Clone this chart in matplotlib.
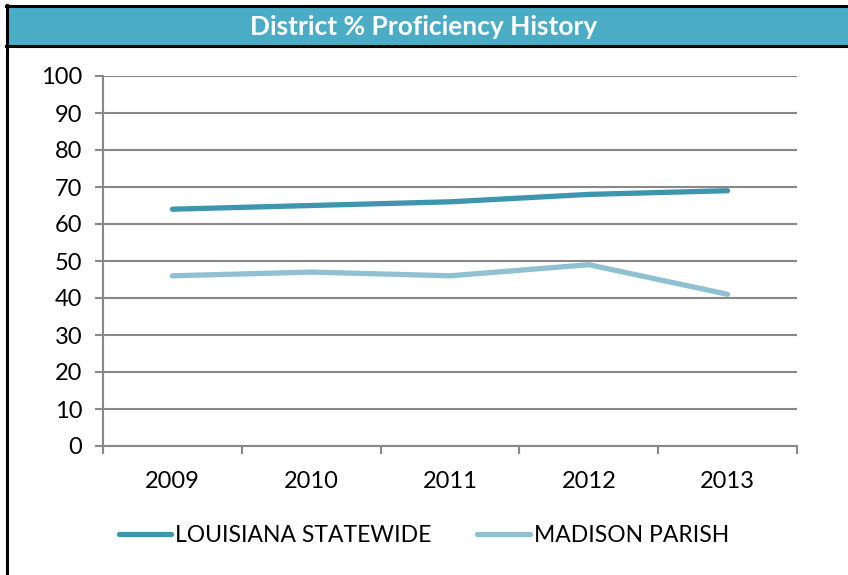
import matplotlib
matplotlib.use("Agg")
import matplotlib.pyplot as plt
from matplotlib.patches import Rectangle
from matplotlib.lines import Line2D

# data
years = ["2009", "2010", "2011", "2012", "2013"]
statewide = [64, 65, 66, 68, 69]
madison = [46, 47, 46, 49, 41]
series_names = ["LOUISIANA STATEWIDE", "MADISON PARISH"]
y_ticks = [0, 10, 20, 30, 40, 50, 60, 70, 80, 90, 100]
title = "District % Proficiency History"

plt.rcParams["font.family"] = ["Lato", "DejaVu Sans"]

W, H = 848, 575
fig = plt.figure(figsize=(W / 100, H / 100), dpi=100)


def fx(px):
    return px / W


def fy(py):
    return 1 - py / H


# title bar with black frame lines
fig.patches.append(Rectangle((fx(7), fy(46)), 1 - fx(7), fy(6) - fy(46),
                             transform=fig.transFigure, facecolor="#4BACC6",
                             edgecolor="none", zorder=0))
fig.add_artist(Line2D([fx(7), fx(7)], [0, fy(5)], transform=fig.transFigure,
                      color="black", lw=2.2))
fig.add_artist(Line2D([fx(6), 1], [fy(6), fy(6)], transform=fig.transFigure,
                      color="black", lw=2.2))
fig.add_artist(Line2D([fx(6), 1], [fy(46), fy(46)], transform=fig.transFigure,
                      color="black", lw=2.2))
fig.text(0.5, fy(27), title, color="white", fontsize=19, fontweight="bold",
         ha="center", va="center")

# plot area
ax = fig.add_axes([fx(103), fy(446), fx(797) - fx(103), fy(76) - fy(446)])
x = list(range(len(years)))
ax.plot(x, statewide, color="#3E95AE", lw=3.8, solid_capstyle="round",
        label=series_names[0], zorder=3)
ax.plot(x, madison, color="#8FC1D3", lw=3.8, solid_capstyle="round",
        label=series_names[1], zorder=3)

ax.set_xlim(-0.5, len(years) - 0.5)
ax.set_ylim(0, 100)
ax.set_yticks(y_ticks)
ax.set_yticklabels([str(v) for v in y_ticks], fontsize=17)

ax.set_xticks([i - 0.5 for i in range(len(years) + 1)])
ax.set_xticklabels([])
ax.set_xticks(x, minor=True)
ax.set_xticklabels(years, minor=True, fontsize=17)
ax.tick_params(axis="x", which="minor", length=0, pad=18)
ax.tick_params(axis="x", which="major", length=6, width=1.5, color="#888888")
ax.tick_params(axis="y", length=6, width=1.5, color="#888888", pad=9)

ax.grid(axis="y", color="#888888", lw=1.5)
ax.set_axisbelow(True)
for s in ["top", "right"]:
    ax.spines[s].set_visible(False)
for s in ["left", "bottom"]:
    ax.spines[s].set_color("#888888")
    ax.spines[s].set_linewidth(1.5)

fig.legend(loc="center", bbox_to_anchor=(0.5, fy(536)), ncol=2, frameon=False,
           fontsize=16.5, handlelength=2.3, handletextpad=0.17,
           columnspacing=2.0)

fig.savefig("out.png", dpi=100)
